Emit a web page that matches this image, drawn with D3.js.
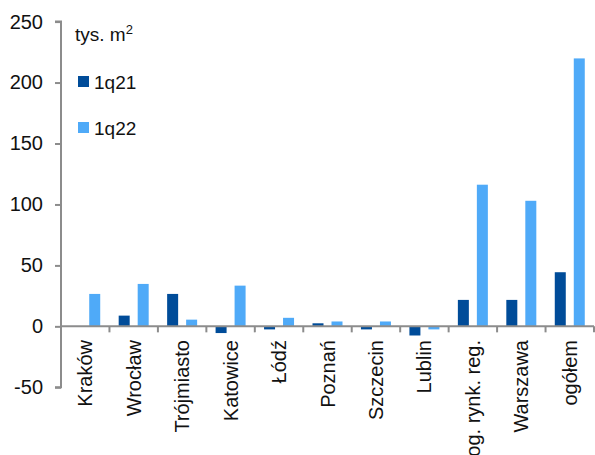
<!DOCTYPE html>
<html><head><meta charset="utf-8">
<script src="https://cdn.jsdelivr.net/npm/d3@7"></script>
<style>body{margin:0;background:#fff}svg{display:block}text{font-family:"Liberation Sans",Arial,sans-serif;fill:#111}</style>
</head><body><svg id="c" width="595" height="455"></svg>
<script>
const categories = ["Kraków","Wrocław","Trójmiasto","Katowice","Łódź","Poznań","Szczecin","Lublin","og. rynk. reg.","Warszawa","ogółem"];
const series1q21 = [0.3, 8.8, 26.6, -5.5, -2.5, 2.5, -2.5, -7.5, 21.7, 21.7, 44.4];
const series1q22 = [26.6, 34.8, 5.5, 33.4, 7, 4, 4, -2.5, 116.2, 103, 219.8];
const seriesNames = ["1q21","1q22"];
const yTicks = [-50,0,50,100,150,200,250];
const colors = ["#004C99","#4FAAF8"];

const svg = d3.select("#c");
const y = d3.scaleLinear().domain([-50,250]).range([387.3,21.6]);
const x = d3.scaleBand().domain(categories).range([61,594]).paddingInner(0).paddingOuter(0);
const fs = 20;

// bars
const bw = 11, gap = 8;
const data = categories.map((c,i)=>({c, v:[series1q21[i], series1q22[i]]}));
data.forEach(d=>{
  const cx = x(d.c) + x.bandwidth()/2;
  d.v.forEach((v,j)=>{
    const x0 = j===0 ? cx - gap/2 - bw : cx + gap/2;
    svg.append("rect").attr("x",x0).attr("width",bw)
      .attr("y", y(Math.max(0,v))).attr("height", Math.abs(y(v)-y(0)))
      .attr("fill", colors[j]);
  });
});

// y axis
const yAxis = d3.axisLeft(y).tickValues(yTicks).tickSize(6).tickPadding(12).tickFormat(d=>String(d));
const ga = svg.append("g").attr("transform","translate(61,0)").call(yAxis);
ga.selectAll("path,line").attr("stroke","#8c8c8c").attr("stroke-width",2);
ga.select(".domain").attr("d","M-6,21.6H0V387.3H-6");
ga.selectAll("text").attr("font-size",fs).attr("fill","#111").style("font-family",'"Liberation Sans",Arial,sans-serif');

// x axis at zero
const xAxis = d3.axisBottom(x).tickSize(0).tickFormat("");
const gx = svg.append("g").attr("transform",`translate(0,${y(0)})`).call(xAxis);
gx.select(".domain").attr("stroke","#8c8c8c").attr("stroke-width",2).attr("d","M61,0H594");
categories.forEach((c,i)=>{
  const tx = x(c) + x.bandwidth();
  gx.append("line").attr("x1",tx).attr("x2",tx).attr("y1",0).attr("y2",6).attr("stroke","#8c8c8c").attr("stroke-width",2);
});
svg.append("g").selectAll("text").data(categories).join("text")
  .attr("transform",d=>`translate(${x(d)+x.bandwidth()/2},340) rotate(-90)`)
  .attr("text-anchor","end").attr("dy","0.35em").attr("font-size",fs).text(d=>d);

// legend
const lt = svg.append("text").attr("x",75).attr("y",41).attr("font-size",19);
lt.append("tspan").text("tys. m");
lt.append("tspan").attr("font-size",13).attr("dy",-7).text("2");
seriesNames.forEach((n,i)=>{
  const ly = 82 + i*46;
  svg.append("rect").attr("x",78).attr("y",ly-6).attr("width",11).attr("height",11).attr("fill",colors[i]);
  svg.append("text").attr("x",94).attr("y",ly).attr("dy","0.35em").attr("font-size",19).text(n);
});
</script></body></html>
